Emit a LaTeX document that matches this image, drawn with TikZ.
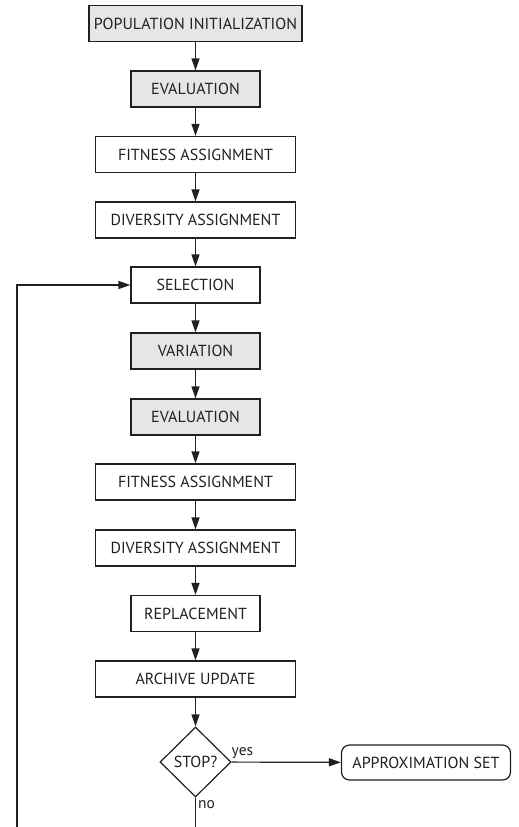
\documentclass[tikz,border=0pt]{standalone}
\usepackage{fontspec}
\setmainfont{PT Sans}
\usetikzlibrary{shapes.geometric,arrows.meta}
\definecolor{boxgray}{HTML}{E6E6E6}
\definecolor{ink}{HTML}{231F20}
\begin{document}
\begin{tikzpicture}[x=1pt,y=-1pt,
  every node/.style={font=\fontsize{16}{19}\selectfont, text=ink},
  box/.style={draw=ink, line width=1.2pt, minimum height=36pt, inner sep=0pt},
  shaded/.style={box, fill=boxgray},
  wide/.style={minimum width=200pt},
  narrow/.style={minimum width=129pt},
  conn/.style={draw=ink, line width=1.2pt, -{Triangle[length=12pt,width=8pt]}},
  plain/.style={draw=ink, line width=1.2pt},
  lbl/.style={font=\fontsize{15.5}{18}\selectfont}]
\useasboundingbox (0,0) rectangle (519,827);
\node[shaded, minimum width=213pt] (pop) at (195.5,23.5) {POPULATION INITIALIZATION};
\node[shaded, narrow] (ev1) at (195.5,89) {EVALUATION};
\node[box, wide] (fit1) at (195.5,154.5) {FITNESS ASSIGNMENT};
\node[box, wide] (div1) at (195.5,220) {DIVERSITY ASSIGNMENT};
\node[box, narrow] (sel) at (195.5,285) {SELECTION};
\node[shaded, narrow] (var) at (195.5,351) {VARIATION};
\node[shaded, narrow] (ev2) at (195.5,417) {EVALUATION};
\node[box, wide] (fit2) at (195.5,482) {FITNESS ASSIGNMENT};
\node[box, wide] (div2) at (195.5,548) {DIVERSITY ASSIGNMENT};
\node[box, narrow] (rep) at (195.5,613.5) {REPLACEMENT};
\node[box, wide] (arc) at (195.5,679) {ARCHIVE UPDATE};
\node[diamond, draw=ink, line width=1.2pt, minimum width=71pt, minimum height=70pt, inner sep=0pt] (stop) at (195.5,762) {STOP?};
\node[box, rounded corners=8pt, minimum width=169pt, minimum height=35pt] (app) at (426,762.5) {APPROXIMATION SET};
\coordinate (b1) at (195.5,827);
\coordinate (b2) at (17,827);
\draw[conn] (pop) -- (ev1);
\draw[conn] (ev1) -- (fit1);
\draw[conn] (fit1) -- (div1);
\draw[conn] (div1) -- (sel);
\draw[conn] (sel) -- (var);
\draw[conn] (var) -- (ev2);
\draw[conn] (ev2) -- (fit2);
\draw[conn] (fit2) -- (div2);
\draw[conn] (div2) -- (rep);
\draw[conn] (rep) -- (arc);
\draw[conn] (arc) -- (stop);
\draw[conn] (stop) -- node[lbl, pos=0.1, above] {yes} (app);
\draw[plain] (stop) -- node[lbl, pos=0.25, right, inner sep=2pt] {no} (b1);
\draw[conn] (b2) |- (sel);
\end{tikzpicture}
\end{document}
